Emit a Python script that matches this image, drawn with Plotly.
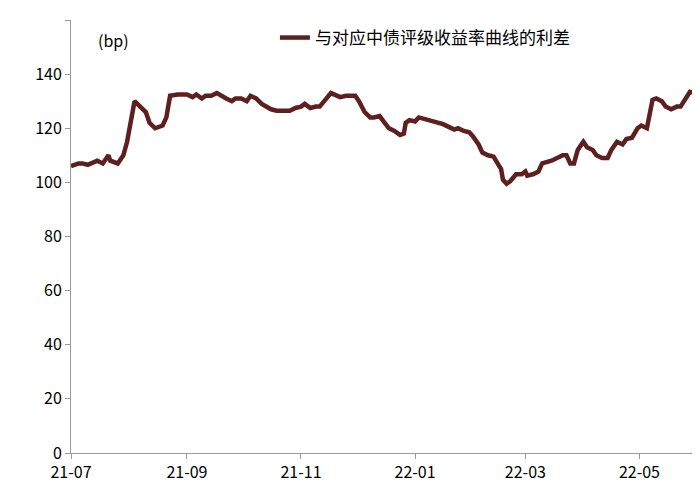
import plotly.graph_objects as go
import pandas as pd

# days since 2021-07-01 and spread in bp
days = [0, 4, 6, 9, 14, 17, 20, 21, 25, 28, 30, 33, 34, 37, 40, 42, 45, 49, 51, 53, 57, 62, 65, 67, 70, 72,
        75, 78, 80, 83, 86, 88, 91, 94, 96, 99, 102, 104, 107, 110, 112, 117, 120, 123, 125, 128, 131, 133,
        139, 141, 144, 147, 152, 154, 157, 160, 162, 165, 168, 170, 173, 176, 178, 179, 181, 184, 186, 189,
        194, 199, 202, 205, 207, 210, 213, 215, 218, 220, 223, 226, 229, 230, 231, 233, 235, 238, 241, 243,
        244, 247, 250, 252, 257, 260, 263, 265, 267, 269, 271, 274, 276, 279, 281, 284, 287, 289, 292, 295,
        297, 300, 303, 305, 308, 311, 313, 316, 318, 321, 324, 326, 328, 331, 334]
spread = [106, 107, 107, 106.5, 108, 107, 110, 108, 107, 110, 115, 125, 130, 128, 126, 122, 120, 121, 124, 132,
          132.5, 132.5, 131.5, 132.5, 131, 132, 132, 133, 132, 131, 130, 131, 131, 130, 132, 131, 129, 128,
          127, 126.5, 126.5, 126.5, 127.5, 128, 129, 127.5, 128, 128, 133, 132.5, 131.5, 132, 132, 130, 126,
          124, 124, 124.5, 122, 120, 119, 117.5, 118, 122, 123, 122.5, 124, 123.5, 122.5, 121.5, 120.5, 119.5,
          120, 119, 118.5, 117, 114, 111, 110, 109.5, 106, 105, 101, 99.5, 100.5, 103, 103, 104, 102.5, 103,
          104, 107, 108, 109, 110, 110, 107, 107, 112, 115, 113, 112, 110, 109, 109, 112, 115, 114, 116, 116.5,
          120, 121, 120, 130.5, 131, 130, 128, 127, 128, 128, 130, 133.5, 133]

dates = pd.Timestamp("2021-07-01") + pd.to_timedelta(days, unit="D")
tick_vals = ["2021-07-01", "2021-09-01", "2021-11-01", "2022-01-01", "2022-03-01", "2022-05-01"]
tick_text = ["21-07", "21-09", "21-11", "22-01", "22-03", "22-05"]

fig = go.Figure()
fig.add_trace(go.Scatter(x=dates, y=spread, mode="lines", name="与对应中债评级收益率曲线的利差",
                         line=dict(color="#5e1f1f", width=4.5)))
fig.update_layout(
    width=700, height=490, plot_bgcolor="white", paper_bgcolor="white",
    margin=dict(l=63, r=5, t=12, b=45),
    font=dict(family="Noto Sans CJK SC, Arial", size=16, color="black"),
    legend=dict(x=0.56, y=1.0, xanchor="center", yanchor="top", bgcolor="rgba(0,0,0,0)", font=dict(size=17)),
    showlegend=True,
    annotations=[dict(x=0.04, y=0.985, xref="paper", yref="paper", text="(bp)", showarrow=False,
                      xanchor="left", yanchor="top", font=dict(size=16))],
)
fig.update_xaxes(range=["2021-07-01", "2022-06-04"], tickvals=tick_vals, ticktext=tick_text,
                 showgrid=False, showline=True, linecolor="#999999", ticks="outside", ticklen=5,
                 tickcolor="#999999", automargin=False)
fig.update_yaxes(range=[0, 160], dtick=20, showgrid=False, showline=True, linecolor="#999999",
                 ticks="outside", ticklen=5, tickcolor="#999999", zeroline=False, automargin=False)
fig.write_html("out.html")
